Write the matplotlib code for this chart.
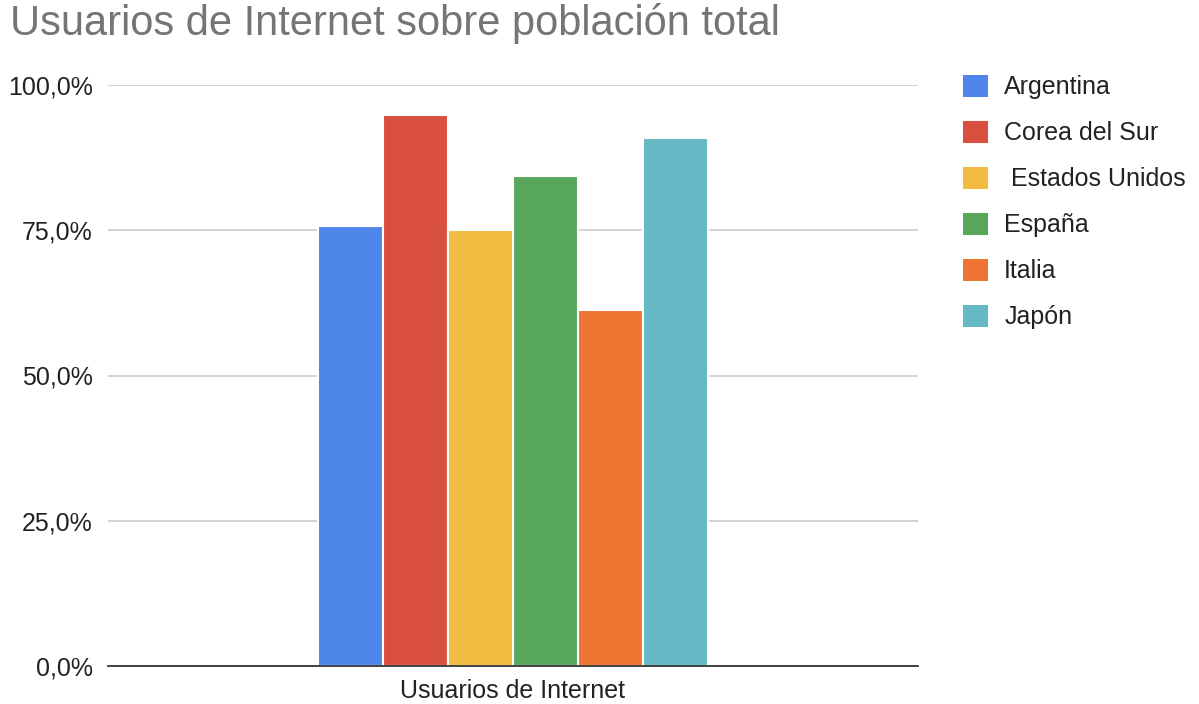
from matplotlib import pyplot as plt
from matplotlib.ticker import FuncFormatter

plt.rcParams['font.family'] = ['Liberation Sans', 'DejaVu Sans']

paises = ['Argentina', 'Corea del Sur', ' Estados Unidos', 'España', 'Italia', 'Japón']
usuarios = [75.7, 94.8, 75.0, 84.3, 61.3, 90.8]
colores = ['#4f86ea', '#d95040', '#f2bc43', '#58a65c', '#ee7531', '#66b9c4']
categoria = 'Usuarios de Internet'
ticks_y = [0, 25, 50, 75, 100]

fig = plt.figure(figsize=(11.99, 7.04), dpi=100)
ax = fig.add_axes([108 / 1199, 1 - 666 / 704, 810 / 1199, 581 / 704])

ancho = 65 / 810
n = len(paises)
for i, (p, v, c) in enumerate(zip(paises, usuarios, colores)):
    x = (i - (n - 1) / 2) * ancho
    ax.bar(x, v, width=ancho, color=c, edgecolor='white', linewidth=1.5, label=p, zorder=3)

ax.set_xlim(-0.5, 0.5)
ax.set_ylim(0, 100)
ax.set_yticks(ticks_y)
ax.yaxis.set_major_formatter(FuncFormatter(lambda v, _: f'{v:.1f}%'.replace('.', ',')))
ax.set_xticks([0])
ax.set_xticklabels([categoria])
ax.tick_params(axis='both', length=0, labelsize=18, colors='#222222')
ax.tick_params(axis='y', pad=11)
ax.tick_params(axis='x', pad=9)
ax.grid(axis='y', color='#cccccc', linewidth=1.2, zorder=0)
for s in ['top', 'right', 'left']:
    ax.spines[s].set_visible(False)
ax.spines['bottom'].set_color('#333333')
ax.spines['bottom'].set_linewidth(1.3)
ax.spines['bottom'].set_zorder(4)

fig.text(10 / 1199, 1 - 24 / 704, 'Usuarios de Internet sobre población total',
         fontsize=30, color='#757575', va='center', ha='left')

leg = ax.legend(loc='upper left', bbox_to_anchor=(953 / 1199, 1 - 64.5 / 704),
                bbox_transform=fig.transFigure, frameon=False, fontsize=18,
                handlelength=1.0, handleheight=1.0, labelspacing=0.85,
                handletextpad=0.65, borderaxespad=0)
for h in leg.legend_handles:
    h.set_edgecolor('none')
for t in leg.get_texts():
    t.set_color('#222222')

fig.savefig('out.png', dpi=100)
